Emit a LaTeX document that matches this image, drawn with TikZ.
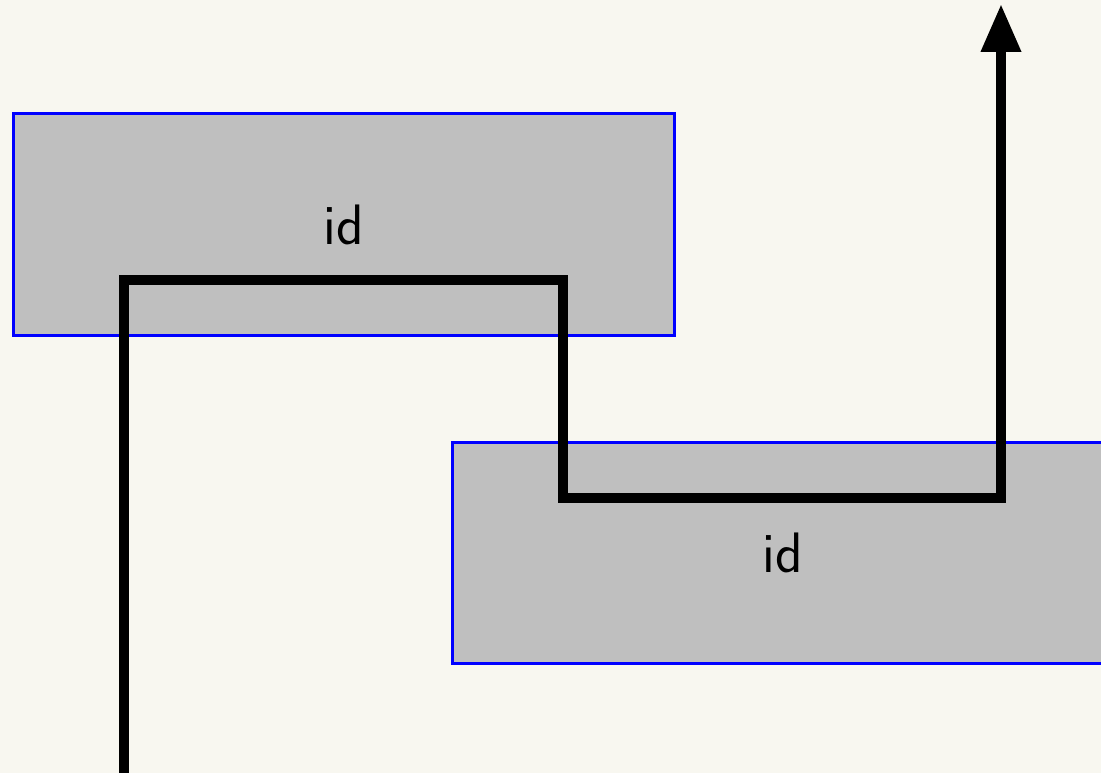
\documentclass[tikz,border=0pt]{standalone}
\usetikzlibrary{arrows.meta}
\definecolor{paper}{HTML}{F8F7F0}
\definecolor{boxgray}{HTML}{BFBFBF}
\tikzset{
  morph/.style={draw=blue, fill=boxgray, line width=3pt, minimum width=661pt,
    minimum height=221pt, inner sep=0pt, font=\fontsize{57}{60}\selectfont\sffamily},
  wire/.style={line width=10pt, miter limit=10}
}
\begin{document}
\begin{tikzpicture}[x=1pt, y=-1pt]
  \fill[paper] (0,0) rectangle (1101,773);
  \useasboundingbox (0,0) rectangle (1101,773);
  \clip (0,0) rectangle (1101,773);
  \node[morph] (f) at (343.5,224.5) {id};
  \node[morph] (g) at (783,553) {id};
  \coordinate (in) at (124,790);
  \coordinate (out) at (1001,4);
  \coordinate (a) at (124,280);
  \coordinate (b) at (563,280);
  \coordinate (c) at (563,498);
  \coordinate (d) at (1001,498);
  \draw[wire, -{Triangle[length=48pt,width=38pt]}]
    (in) -- (a) -- (b) -- (c) -- (d) -- (out);
\end{tikzpicture}
\end{document}
